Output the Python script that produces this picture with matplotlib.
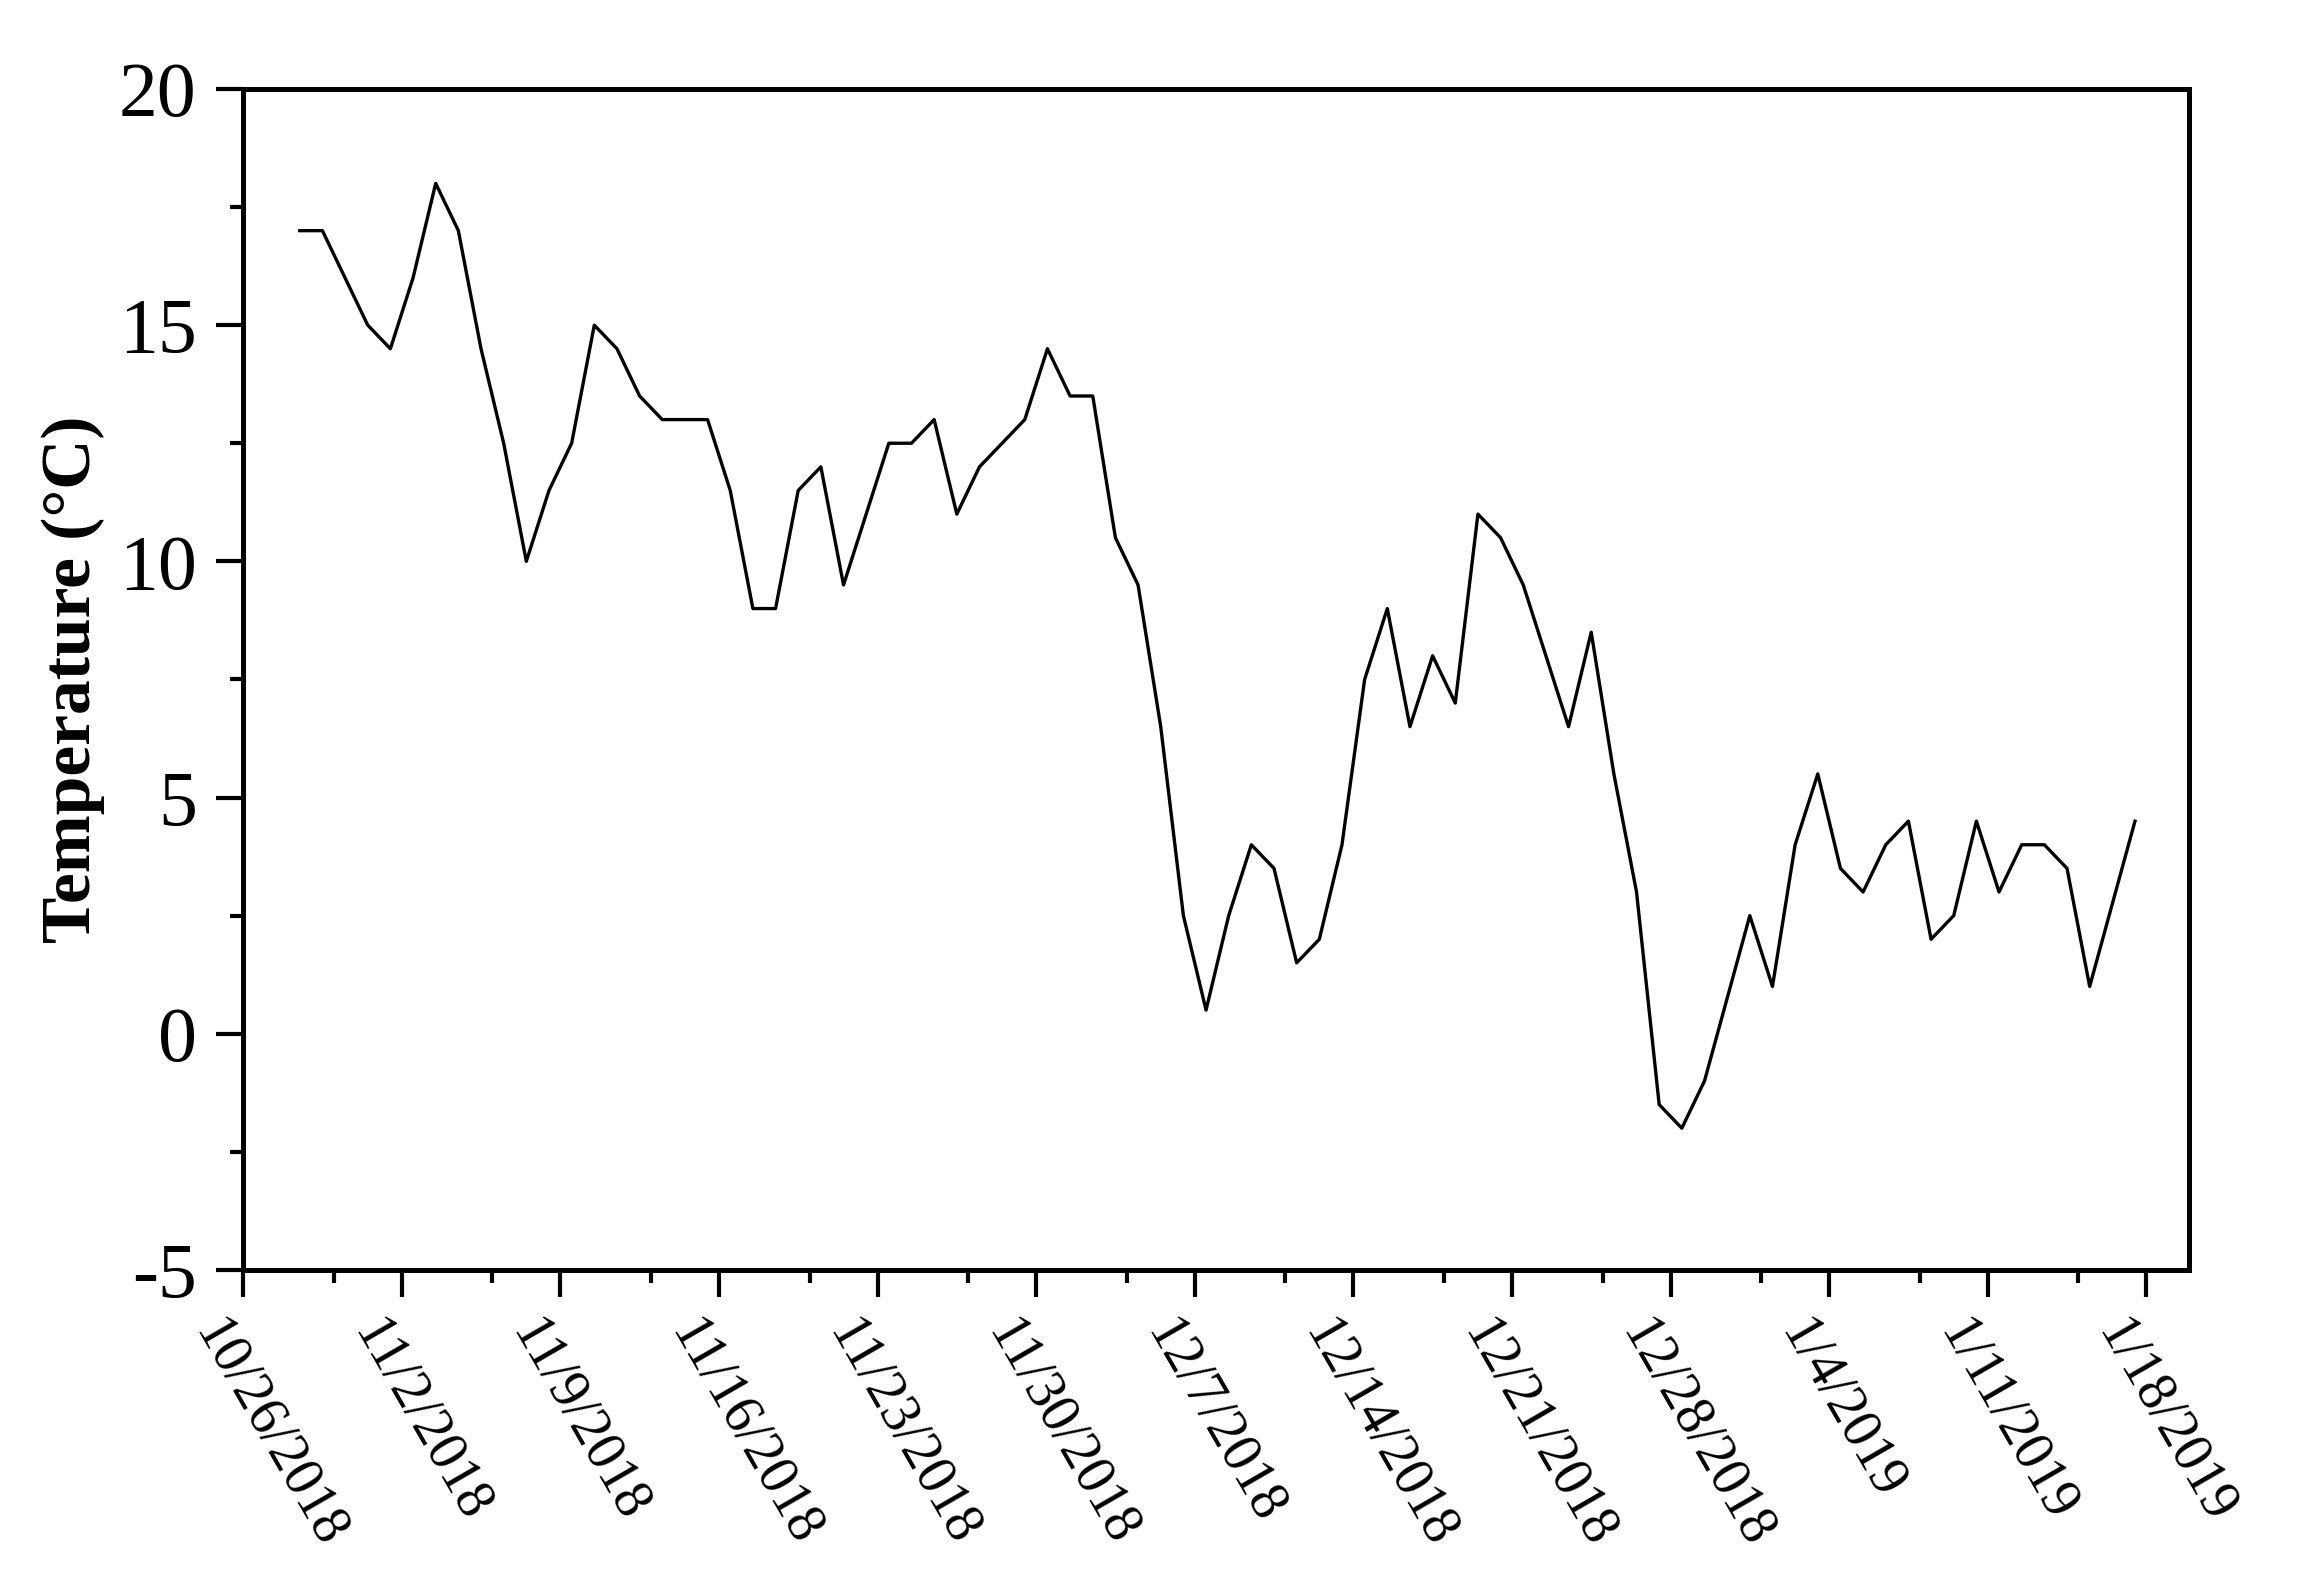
import matplotlib
matplotlib.use('Agg')
import matplotlib.pyplot as plt
import matplotlib.dates as mdates
import matplotlib.transforms as mtransforms
from matplotlib.ticker import MultipleLocator, FuncFormatter
import pandas as pd

# daily temperature, first reading on 10/28/2018
temps = [17, 17, 16, 15, 14.5, 16, 18, 17, 14.5, 12.5,
         10, 11.5, 12.5, 15, 14.5, 13.5, 13, 13, 13, 11.5,
         9, 9, 11.5, 12, 9.5, 11, 12.5, 12.5, 13, 11,
         12, 12.5, 13, 14.5, 13.5, 13.5, 10.5, 9.5, 6.5, 2.5,
         0.5, 2.5, 4, 3.5, 1.5, 2, 4, 7.5, 9, 6.5,
         8, 7, 11, 10.5, 9.5, 8, 6.5, 8.5, 5.5, 3,
         -1.5, -2, -1, 0.75, 2.5, 1, 4, 5.5, 3.5, 3,
         4, 4.5, 2, 2.5, 4.5, 3, 4, 4, 3.5, 1,
         2.75, 4.5]
first_day = '2018-10-28 12:00'
dates = pd.date_range(first_day, periods=len(temps), freq='D')

axis_start = pd.Timestamp('2018-10-26')
axis_end = axis_start + pd.Timedelta(days=85.88)

plt.rcParams['font.family'] = ['Liberation Serif', 'DejaVu Serif']
plt.rcParams['axes.unicode_minus'] = False

fig = plt.figure(figsize=(11.5, 7.94), dpi=200)
ax = fig.add_axes([0.1057, 0.2003, 0.846, 0.7437])

ax.plot(dates, temps, color='black', lw=1.2)

ax.set_xlim(axis_start, axis_end)
ax.set_ylim(-5, 20)
ax.yaxis.set_major_locator(MultipleLocator(5))
ax.yaxis.set_minor_locator(MultipleLocator(2.5))
ax.xaxis.set_major_locator(mdates.WeekdayLocator(byweekday=mdates.FR))
ax.xaxis.set_minor_locator(mdates.WeekdayLocator(byweekday=mdates.TU))


def date_label(x, pos):
    d = mdates.num2date(x)
    return f"{d.month}/{d.day}/{d.year}"


ax.xaxis.set_major_formatter(FuncFormatter(date_label))

for sp in ax.spines.values():
    sp.set_linewidth(1.8)
ax.tick_params(which='major', length=9.7, width=1.5, direction='out')
ax.tick_params(which='minor', length=4.7, width=1.5, direction='out')
ax.tick_params(axis='y', labelsize=28, pad=7)
ax.tick_params(axis='x', labelsize=20, pad=5)

# labels sit a bit left of their ticks in the original
shift = mtransforms.ScaledTranslation(-15 / 200, 0, fig.dpi_scale_trans)
for lab in ax.get_xticklabels():
    lab.set_rotation(-60)
    lab.set_ha('left')
    lab.set_va('top')
    lab.set_rotation_mode('anchor')
    lab.set_transform(lab.get_transform() + shift)

ax.set_ylabel('Temperature (°C)', fontsize=25, fontweight='bold', labelpad=5)

fig.savefig('out.png', dpi=200)
